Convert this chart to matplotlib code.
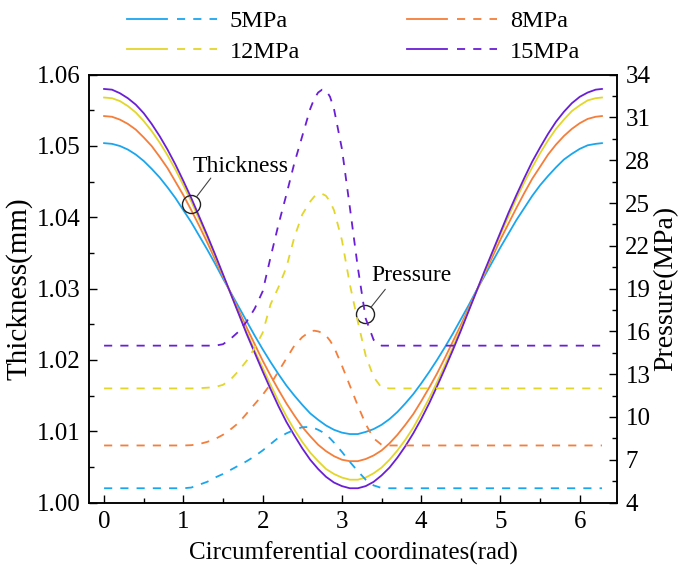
import matplotlib
matplotlib.use("Agg")
import matplotlib.pyplot as plt
from matplotlib.legend_handler import HandlerTuple
from matplotlib.ticker import MultipleLocator, FixedLocator, FormatStrFormatter

plt.rcParams['font.family'] = ['Liberation Serif', 'DejaVu Serif']

# --- data ---
labels = ['5MPa', '8MPa', '12MPa', '15MPa']
colors = ['#1aa6ee', '#f47e3a', '#e3d62b', '#6a1fd6']

# thickness curves (mm), x every 0.1 rad
x_h = [round(0.1 * i, 1) for i in range(63)] + [6.28]
h_5 = [1.0504, 1.0503, 1.0500, 1.0495, 1.0488, 1.0479, 1.0468, 1.0456, 1.0442, 1.0427,
       1.0410, 1.0393, 1.0374, 1.0355, 1.0335, 1.0314, 1.0294, 1.0274, 1.0254, 1.0234,
       1.0215, 1.0197, 1.0180, 1.0164, 1.0150, 1.0137, 1.0125, 1.0116, 1.0108, 1.0102,
       1.0098, 1.0096, 1.0096, 1.0099, 1.0103, 1.0109, 1.0117, 1.0127, 1.0139, 1.0152,
       1.0167, 1.0183, 1.0200, 1.0218, 1.0237, 1.0257, 1.0277, 1.0298, 1.0318, 1.0338,
       1.0358, 1.0377, 1.0396, 1.0413, 1.0430, 1.0445, 1.0458, 1.0470, 1.0481, 1.0489,
       1.0496, 1.0501, 1.0503, 1.0504]
h_8 = [1.0542, 1.0541, 1.0537, 1.0531, 1.0523, 1.0512, 1.0500, 1.0485, 1.0469, 1.0450,
       1.0431, 1.0410, 1.0388, 1.0365, 1.0341, 1.0317, 1.0293, 1.0269, 1.0245, 1.0222,
       1.0199, 1.0178, 1.0158, 1.0139, 1.0122, 1.0106, 1.0093, 1.0081, 1.0072, 1.0065,
       1.0060, 1.0058, 1.0058, 1.0061, 1.0066, 1.0073, 1.0083, 1.0095, 1.0109, 1.0124,
       1.0142, 1.0161, 1.0181, 1.0203, 1.0226, 1.0249, 1.0273, 1.0297, 1.0321, 1.0345,
       1.0369, 1.0391, 1.0413, 1.0434, 1.0454, 1.0471, 1.0488, 1.0502, 1.0514, 1.0524,
       1.0532, 1.0538, 1.0541, 1.0542]
h_12 = [1.0568, 1.0567, 1.0563, 1.0556, 1.0547, 1.0535, 1.0521, 1.0505, 1.0487, 1.0467,
        1.0445, 1.0422, 1.0397, 1.0372, 1.0346, 1.0319, 1.0292, 1.0265, 1.0239, 1.0213,
        1.0189, 1.0165, 1.0142, 1.0121, 1.0102, 1.0085, 1.0070, 1.0058, 1.0047, 1.0040,
        1.0035, 1.0032, 1.0032, 1.0035, 1.0041, 1.0049, 1.0060, 1.0073, 1.0088, 1.0105,
        1.0125, 1.0146, 1.0169, 1.0193, 1.0218, 1.0244, 1.0270, 1.0297, 1.0323, 1.0350,
        1.0376, 1.0401, 1.0426, 1.0449, 1.0470, 1.0490, 1.0508, 1.0524, 1.0537, 1.0549,
        1.0557, 1.0564, 1.0567, 1.0568]
h_15 = [1.0580, 1.0579, 1.0574, 1.0567, 1.0558, 1.0546, 1.0531, 1.0514, 1.0495, 1.0474,
        1.0451, 1.0427, 1.0401, 1.0375, 1.0348, 1.0320, 1.0292, 1.0264, 1.0236, 1.0210,
        1.0184, 1.0159, 1.0135, 1.0113, 1.0094, 1.0076, 1.0060, 1.0047, 1.0036, 1.0028,
        1.0023, 1.0020, 1.0020, 1.0023, 1.0029, 1.0038, 1.0049, 1.0063, 1.0079, 1.0097,
        1.0117, 1.0139, 1.0163, 1.0188, 1.0214, 1.0241, 1.0269, 1.0297, 1.0325, 1.0352,
        1.0379, 1.0406, 1.0431, 1.0455, 1.0478, 1.0498, 1.0517, 1.0534, 1.0548, 1.0560,
        1.0569, 1.0575, 1.0579, 1.0580]

# pressure curves (MPa)
x_p = [0, 0.5, 1.0, 1.1, 1.2, 1.3, 1.4, 1.5, 1.6, 1.7, 1.8, 1.9, 2.0, 2.1, 2.2, 2.3,
       2.4, 2.5, 2.6, 2.65, 2.7, 2.75, 2.8, 2.85, 2.9, 3.0, 3.1, 3.2, 3.3, 3.4, 3.5,
       3.6, 3.7, 3.8, 4.5, 5.5, 6.28]
p_5 = [5.0, 5.0, 5.0, 5.05, 5.25, 5.45, 5.75, 6.0, 6.3, 6.6, 6.9, 7.25, 7.65, 8.1, 8.55,
       8.85, 9.1, 9.28, 9.3, 9.22, 9.1, 8.95, 8.75, 8.5, 8.2, 7.55, 6.85, 6.2, 5.6, 5.2,
       5.02, 5.0, 5.0, 5.0, 5.0, 5.0, 5.0]
p_8 = [8.0, 8.0, 8.0, 8.02, 8.1, 8.25, 8.45, 8.75, 9.15, 9.6, 10.25, 10.9, 11.55, 12.3,
       13.2, 14.1, 15.0, 15.6, 16.0, 16.05, 16.0, 15.9, 15.7, 15.35, 14.9, 13.6, 12.2,
       10.8, 9.5, 8.5, 8.05, 8.0, 8.0, 8.0, 8.0, 8.0, 8.0]
p_12 = [12.0, 12.0, 12.0, 12.0, 12.02, 12.05, 12.1, 12.25, 12.65, 13.25, 13.95, 14.85,
        15.9, 17.9, 19.1, 20.5, 22.6, 24.2, 25.1, 25.45, 25.65, 25.65, 25.5, 25.1, 24.5,
        22.4, 19.3, 16.7, 14.3, 12.8, 12.05, 12.0, 12.0, 12.0, 12.0, 12.0, 12.0]
p_15 = [15.0, 15.0, 15.0, 15.0, 15.0, 15.0, 15.0, 15.1, 15.5, 16.0, 16.7, 17.6, 18.8,
        21.2, 23.5, 25.6, 27.8, 29.7, 31.6, 32.3, 32.75, 32.95, 32.9, 32.45, 31.6, 28.8,
        24.7, 20.5, 16.9, 15.4, 15.0, 15.0, 15.0, 15.0, 15.0, 15.0, 15.0]

thickness = [h_5, h_8, h_12, h_15]
pressure = [p_5, p_8, p_12, p_15]

fig = plt.figure(figsize=(6.8, 5.79), dpi=100)
ax = fig.add_axes([0.1309, 0.1321, 0.7765, 0.7389])
ax2 = ax.twinx()

handles = []
for lab, c, h, p in zip(labels, colors, thickness, pressure):
    l1, = ax.plot(x_h, h, color=c, lw=1.3)
    l2, = ax2.plot(x_p, p, color=c, lw=1.3, dashes=(4.5, 4.5))
    handles.append((l1, l2))

ax.set_xlim(-0.19, 6.47)
ax.set_ylim(1.00, 1.06)
ax2.set_ylim(4, 34)

ax.xaxis.set_major_locator(MultipleLocator(1))
ax.xaxis.set_minor_locator(MultipleLocator(0.5))
ax.yaxis.set_major_locator(MultipleLocator(0.01))
ax.yaxis.set_minor_locator(MultipleLocator(0.005))
ax.yaxis.set_major_formatter(FormatStrFormatter('%.2f'))
ax2.yaxis.set_major_locator(FixedLocator(list(range(4, 35, 3))))
ax2.yaxis.set_minor_locator(FixedLocator([5.5 + 3 * i for i in range(10)]))

for a in (ax, ax2):
    a.tick_params(which='both', direction='in', width=1.0, labelsize=18, pad=6)
    a.tick_params(which='major', length=6)
    a.tick_params(which='minor', length=3.5)
    for s in a.spines.values():
        s.set_linewidth(1.1)
ax.tick_params(top=False, right=False, which='both')
ax2.tick_params(axis='y', which='both', right=True, left=False)

ax.set_xlabel('Circumferential coordinates(rad)', fontsize=18, labelpad=6)
ax.set_ylabel('Thickness(mm)', fontsize=21, labelpad=3)
ax2.set_ylabel('Pressure(MPa)', fontsize=20, labelpad=2)

# annotations
ax.plot([1.10], [1.0419], marker='o', ms=13, mfc='none', mec='#222222', mew=1.0)
ax.annotate('', xy=(1.10, 1.0419), xytext=(1.346, 1.0455),
            arrowprops=dict(arrowstyle='-', color='#444444', lw=0.8, shrinkA=0, shrinkB=6.6))
ax.text(1.12, 1.0464, 'Thickness', fontsize=17, ha='left', va='baseline')

ax.plot([3.296], [1.0264], marker='o', ms=13, mfc='none', mec='#222222', mew=1.0)
ax.annotate('', xy=(3.296, 1.0264), xytext=(3.547, 1.0299),
            arrowprops=dict(arrowstyle='-', color='#444444', lw=0.8, shrinkA=0, shrinkB=6.6))
ax.text(3.37, 1.0311, 'Pressure', fontsize=17, ha='left', va='baseline')

# legend: solid + dashed pair per pressure
order = [0, 2, 1, 3]
fig.legend([handles[i] for i in order], [labels[i] for i in order],
           handler_map={tuple: HandlerTuple(ndivide=2, pad=0.41)},
           loc='center', bbox_to_anchor=(0.52, 0.937), ncol=2, frameon=False,
           fontsize=17.5, handlelength=3.7, handletextpad=0.53, columnspacing=4.4,
           labelspacing=0.35)

fig.savefig('out.png', dpi=100)
